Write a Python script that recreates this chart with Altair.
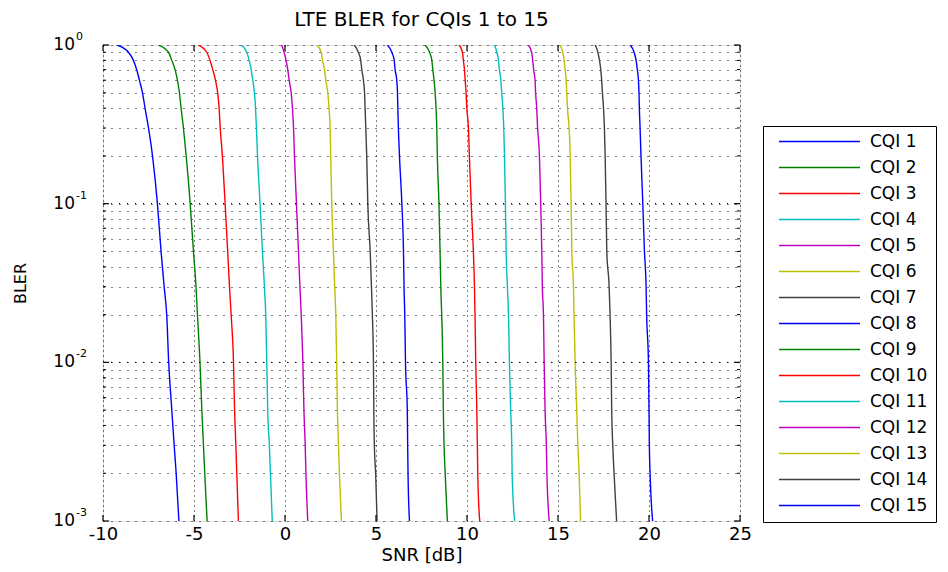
import altair as alt
import pandas as pd

# BLER levels at which each waterfall curve is tabulated
bler_levels = [1.0, 0.9, 0.8, 0.7, 0.6, 0.5, 0.4, 0.3, 0.2, 0.1,
               0.05, 0.03, 0.02, 0.01, 0.005, 0.003, 0.002, 0.001]

# SNR [dB] needed to reach each BLER level, one list per CQI
snr_cqi1 = [-9.24, -8.60, -8.33, -8.15, -8.00, -7.83, -7.69, -7.50, -7.28, -7.01,
            -6.81, -6.64, -6.50, -6.39, -6.22, -6.09, -5.98, -5.83]
snr_cqi2 = [-6.96, -6.40, -6.22, -6.04, -5.91, -5.80, -5.71, -5.58, -5.43, -5.21,
            -5.03, -4.89, -4.81, -4.67, -4.57, -4.48, -4.41, -4.28]
snr_cqi3 = [-4.76, -4.30, -4.12, -3.97, -3.82, -3.70, -3.62, -3.56, -3.44, -3.29,
            -3.15, -3.05, -2.96, -2.83, -2.77, -2.70, -2.65, -2.56]
snr_cqi4 = [-2.41, -2.10, -1.97, -1.86, -1.77, -1.68, -1.62, -1.57, -1.51, -1.37,
            -1.24, -1.13, -1.06, -1.00, -0.95, -0.86, -0.80, -0.70]
snr_cqi5 = [-0.18, -0.05, 0.06, 0.15, 0.23, 0.34, 0.41, 0.47, 0.52, 0.63,
            0.74, 0.82, 0.89, 0.98, 1.04, 1.11, 1.15, 1.25]
snr_cqi6 = [1.75, 1.99, 2.06, 2.17, 2.24, 2.35, 2.42, 2.48, 2.51, 2.57,
            2.66, 2.73, 2.79, 2.84, 2.88, 2.94, 2.99, 3.10]
snr_cqi7 = [3.80, 4.03, 4.16, 4.22, 4.31, 4.37, 4.40, 4.44, 4.49, 4.55,
            4.68, 4.75, 4.80, 4.86, 4.88, 4.91, 4.98, 5.06]
snr_cqi8 = [5.63, 5.87, 6.00, 6.05, 6.14, 6.18, 6.20, 6.23, 6.29, 6.42,
            6.51, 6.54, 6.58, 6.62, 6.72, 6.74, 6.76, 6.84]
snr_cqi9 = [7.70, 7.94, 8.07, 8.12, 8.19, 8.25, 8.30, 8.34, 8.37, 8.46,
            8.52, 8.56, 8.61, 8.67, 8.70, 8.74, 8.80, 8.92]
snr_cqi10 = [9.57, 9.75, 9.80, 9.86, 9.90, 9.95, 9.99, 10.08, 10.13, 10.23,
             10.35, 10.41, 10.44, 10.48, 10.54, 10.57, 10.59, 10.70]
snr_cqi11 = [11.51, 11.64, 11.73, 11.78, 11.86, 11.91, 11.97, 12.02, 12.06, 12.11,
             12.15, 12.22, 12.28, 12.33, 12.40, 12.46, 12.48, 12.62]
snr_cqi12 = [13.37, 13.55, 13.61, 13.66, 13.74, 13.77, 13.83, 13.88, 13.98, 14.05,
             14.11, 14.14, 14.20, 14.24, 14.29, 14.36, 14.39, 14.52]
snr_cqi13 = [15.12, 15.26, 15.34, 15.39, 15.45, 15.48, 15.52, 15.61, 15.67, 15.72,
             15.76, 15.85, 15.88, 15.94, 16.03, 16.09, 16.16, 16.24]
snr_cqi14 = [17.04, 17.19, 17.28, 17.35, 17.40, 17.44, 17.50, 17.55, 17.59, 17.64,
             17.68, 17.81, 17.86, 17.92, 17.95, 18.01, 18.08, 18.22]
snr_cqi15 = [18.96, 19.18, 19.29, 19.36, 19.42, 19.45, 19.47, 19.51, 19.56, 19.66,
             19.75, 19.84, 19.87, 19.97, 20.00, 20.02, 20.06, 20.20]

snr_curves = [snr_cqi1, snr_cqi2, snr_cqi3, snr_cqi4, snr_cqi5, snr_cqi6, snr_cqi7,
              snr_cqi8, snr_cqi9, snr_cqi10, snr_cqi11, snr_cqi12, snr_cqi13,
              snr_cqi14, snr_cqi15]
cqi_names = ["CQI 1", "CQI 2", "CQI 3", "CQI 4", "CQI 5", "CQI 6", "CQI 7", "CQI 8",
             "CQI 9", "CQI 10", "CQI 11", "CQI 12", "CQI 13", "CQI 14", "CQI 15"]

# classic MATLAB line colour order, cycled
color_order = ["#0000ff", "#008000", "#ff0000", "#00bfbf", "#bf00bf", "#bfbf00", "#404040"]
cqi_colors = [color_order[i % len(color_order)] for i in range(len(cqi_names))]

# axis ticks
x_ticks = [-10, -5, 0, 5, 10, 15, 20, 25]
y_decades = [1.0, 0.1, 0.01, 0.001]
y_exponents = ["0", "-1", "-2", "-3"]
y_minor = [m * d for d in (0.001, 0.01, 0.1) for m in range(2, 10)]

rows = []
for name, snrs in zip(cqi_names, snr_curves):
    for step, (s, b) in enumerate(zip(snrs, bler_levels)):
        rows.append({"cqi": name, "snr": s, "bler": b, "step": step})
curves = pd.DataFrame(rows)

W, H = 637, 476
FONT = "DejaVu Sans"

xscale = alt.Scale(domain=[-10, 25], nice=False, zero=False)
yscale = alt.Scale(type="log", domain=[0.001, 1], nice=False)

# one axis definition per channel, shared by every layer so they merge cleanly
x_axis = alt.Axis(values=x_ticks, grid=True, gridColor="black", gridDash=[1, 4],
                  gridOpacity=1, gridWidth=1, ticks=False, tickSize=0, domain=False,
                  labelExpr="'' + datum.value", labelFont=FONT, labelFontSize=18,
                  labelColor="black", labelPadding=4, labelFlush=False,
                  titleFont=FONT, titleFontSize=18, titleFontWeight="normal",
                  titleColor="black", titlePadding=3)
y_axis = alt.Axis(values=y_decades + y_minor, grid=True, gridColor="black",
                  gridDash=[1, 7], gridOpacity=1, gridWidth=1, labels=False,
                  ticks=False, tickSize=0, domain=False,
                  titleFont=FONT, titleFontSize=16, titleFontWeight="normal",
                  titleColor="black", titleX=-83, titleBaseline="middle")


def xenc(field="snr:Q"):
    return alt.X(field, scale=xscale, axis=x_axis, title="SNR [dB]")


def yenc(field="bler:Q"):
    return alt.Y(field, scale=yscale, axis=y_axis, title="BLER")


lines = alt.Chart(curves).mark_line(strokeWidth=1.4, interpolate="monotone", clip=True).encode(
    x=xenc(),
    y=yenc(),
    color=alt.Color("cqi:N", scale=alt.Scale(domain=cqi_names, range=cqi_colors),
                    legend=alt.Legend(orient="none", legendX=660, legendY=81, title=None,
                                      direction="vertical", symbolType="stroke",
                                      symbolSize=6561, symbolStrokeWidth=1.4,
                                      clipHeight=15, rowPadding=8, padding=8,
                                      symbolOffset=7, labelOffset=9,
                                      labelExpr="datum.label + '  '",
                                      strokeColor="black", fillColor="white",
                                      cornerRadius=0, labelFont=FONT, labelFontSize=17,
                                      labelColor="black", labelLimit=200)),
    order=alt.Order("step:Q"),
)

# denser dotting on the decade rows (major and minor grid overlap there)
decade_df = pd.DataFrame({"bler": [0.1, 0.01]})
decade_grid = alt.Chart(decade_df).mark_rule(
    color="black", strokeWidth=1, strokeDash=[1, 7], strokeDashOffset=4
).encode(y=yenc())

# inward ticks on all four sides
xt_df = pd.DataFrame({"snr": x_ticks})
x_ticks_bottom = alt.Chart(xt_df).mark_rule(color="black", strokeWidth=1.2).encode(
    x=xenc(), y=alt.value(H - 6), y2=alt.value(H))
x_ticks_top = alt.Chart(xt_df).mark_rule(color="black", strokeWidth=1.2).encode(
    x=xenc(), y=alt.value(0), y2=alt.value(6))

ymaj_df = pd.DataFrame({"bler": y_decades})
ymin_df = pd.DataFrame({"bler": y_minor})
y_major_left = alt.Chart(ymaj_df).mark_rule(color="black", strokeWidth=1.2).encode(
    y=yenc(), x=alt.value(0), x2=alt.value(6))
y_major_right = alt.Chart(ymaj_df).mark_rule(color="black", strokeWidth=1.2).encode(
    y=yenc(), x=alt.value(W - 6), x2=alt.value(W))
y_minor_left = alt.Chart(ymin_df).mark_rule(color="black", strokeWidth=1).encode(
    y=yenc(), x=alt.value(0), x2=alt.value(3))
y_minor_right = alt.Chart(ymin_df).mark_rule(color="black", strokeWidth=1).encode(
    y=yenc(), x=alt.value(W - 3), x2=alt.value(W))

# y tick labels written as 10 with a raised exponent
ylab_df = pd.DataFrame({"bler": y_decades, "exp": y_exponents, "base": ["10"] * 4})
y_base = alt.Chart(ylab_df).mark_text(
    align="right", baseline="middle", font=FONT, fontSize=17, color="black"
).encode(y=yenc(), x=alt.value(-28), text="base:N")
y_exp = alt.Chart(ylab_df).mark_text(
    align="left", baseline="middle", font=FONT, fontSize=11, color="black", dy=-8
).encode(y=yenc(), x=alt.value(-27), text="exp:N")

chart = alt.layer(
    lines, decade_grid, x_ticks_bottom, x_ticks_top,
    y_major_left, y_major_right, y_minor_left, y_minor_right, y_base, y_exp,
).properties(
    width=W, height=H,
    padding={"left": 103, "top": 45, "right": 208, "bottom": 51},
    autosize=alt.AutoSizeParams(type="none"),
    title=alt.Title("LTE BLER for CQIs 1 to 15", font=FONT, fontSize=20,
                    fontWeight="normal", color="black", anchor="middle",
                    frame="group", offset=1),
).configure_view(
    stroke="black", strokeWidth=1.5
).configure(
    background="white"
)

chart.save("out.html", embed_options={"renderer": "svg", "actions": False})
